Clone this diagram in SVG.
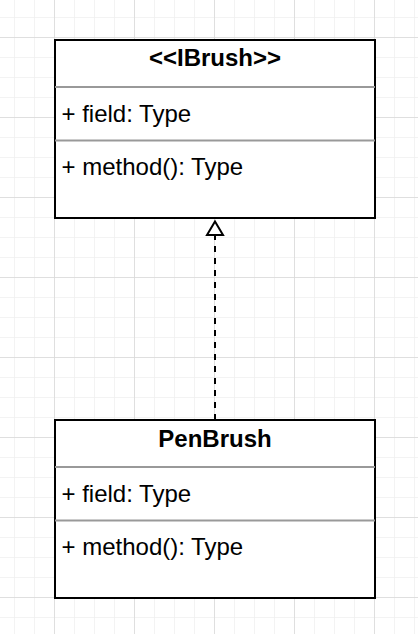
<svg xmlns="http://www.w3.org/2000/svg" width="418" height="634" viewBox="0 0 418 634">
  <defs>
    <pattern id="minor" x="14" y="17" width="20" height="20" patternUnits="userSpaceOnUse">
      <path d="M0 0 H20 M0 0 V20" fill="none" stroke="#efefef" stroke-width="1.5"/>
    </pattern>
    <pattern id="major" x="54" y="37" width="80" height="80" patternUnits="userSpaceOnUse">
      <path d="M0 0 H80 M0 0 V80" fill="none" stroke="#d9d9d9" stroke-width="1.5"/>
    </pattern>
    <style>
      .box { fill: #ffffff; stroke: #000000; stroke-width: 2; }
      .div { stroke: #999999; stroke-width: 2; }
      .title { font-family: "Liberation Sans", Arial, sans-serif; font-size: 24px; font-weight: bold; fill: #000000; text-anchor: middle; }
      .member { font-family: "Liberation Sans", Arial, sans-serif; font-size: 24px; fill: #000000; }
      .edge { fill: none; stroke: #000000; stroke-width: 2; }
      .head { fill: #ffffff; stroke: #000000; stroke-width: 2; }
    </style>
  </defs>
  <rect width="418" height="634" fill="#ffffff"/>
  <rect width="418" height="634" fill="url(#minor)"/>
  <rect width="418" height="634" fill="url(#major)"/>

  <g id="connectors">
    <line class="edge" x1="215" y1="420" x2="215" y2="236" stroke-dasharray="6 6"/>
    <path class="head" d="M215 221.5 L223 235 L207 235 Z"/>
  </g>

  <g id="IBrush">
    <rect class="box" x="55" y="40" width="320" height="178"/>
    <line class="div" x1="55" y1="87" x2="375" y2="87"/>
    <line class="div" x1="55" y1="140.5" x2="375" y2="140.5"/>
    <text class="title" x="215" y="66">&lt;&lt;IBrush&gt;&gt;</text>
    <text class="member" x="61.5" y="122">+ field: Type</text>
    <text class="member" x="61.5" y="175">+ method(): Type</text>
  </g>

  <g id="PenBrush">
    <rect class="box" x="55" y="420" width="320" height="178"/>
    <line class="div" x1="55" y1="467" x2="375" y2="467"/>
    <line class="div" x1="55" y1="520.5" x2="375" y2="520.5"/>
    <text class="title" x="215" y="446.5">PenBrush</text>
    <text class="member" x="61.5" y="502">+ field: Type</text>
    <text class="member" x="61.5" y="555">+ method(): Type</text>
  </g>
</svg>
